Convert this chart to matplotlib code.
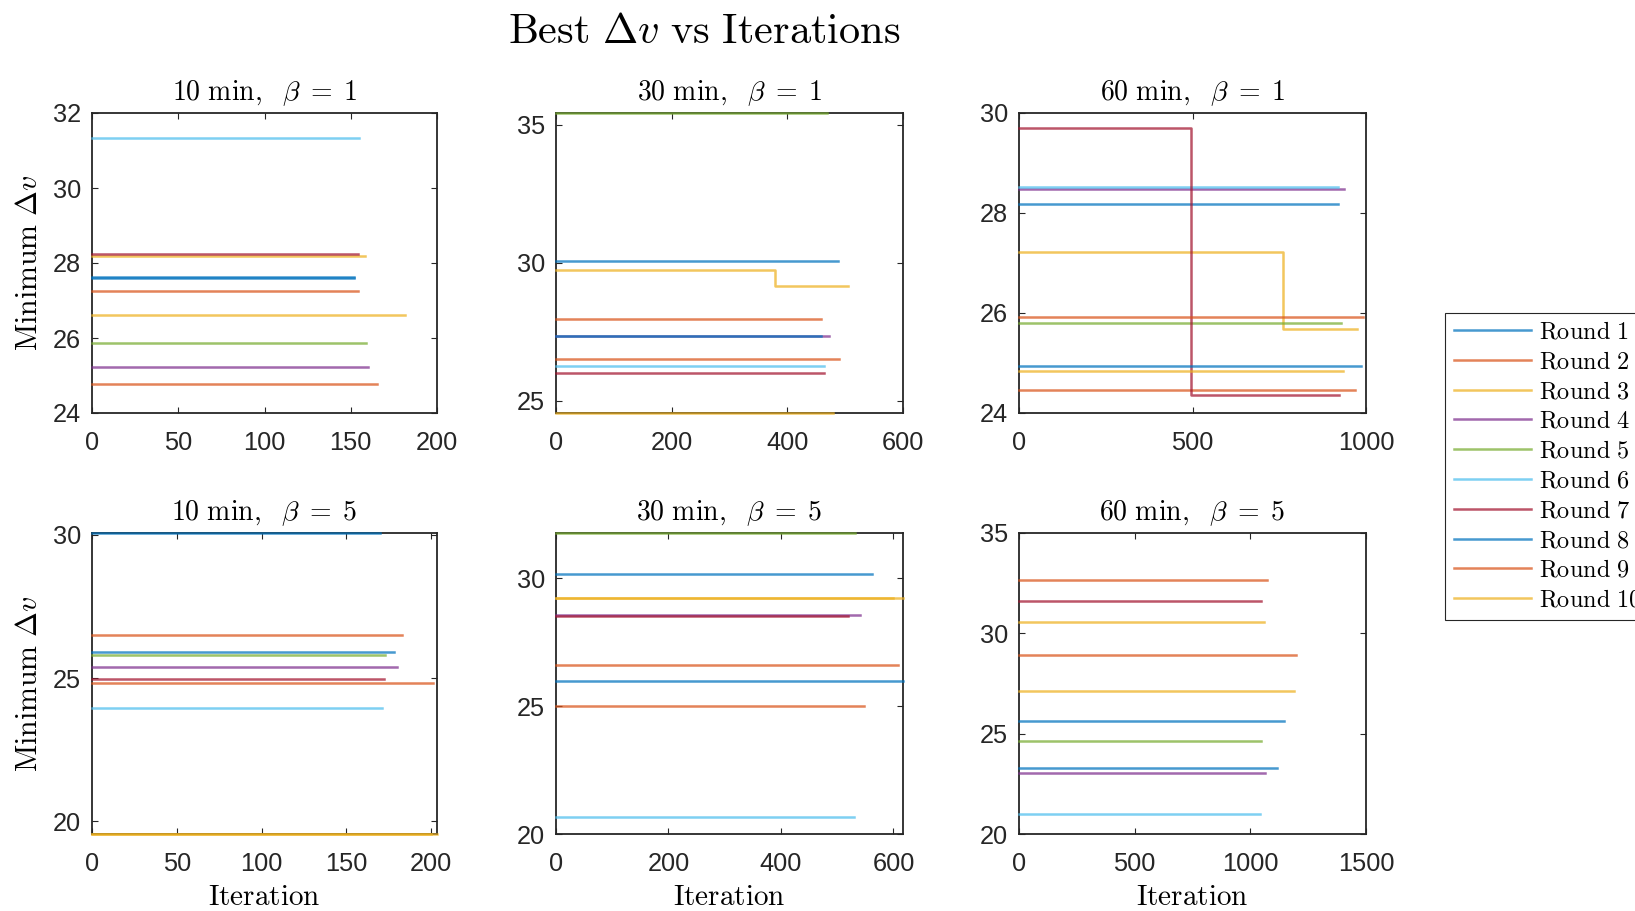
import numpy as np
import matplotlib
matplotlib.use("Agg")
import matplotlib.pyplot as plt

plt.rcParams['mathtext.fontset'] = 'cm'
plt.rcParams['font.family'] = ['Liberation Sans', 'DejaVu Sans']

# MATLAB default line colours, cycled for the 10 rounds
colors = ['#0072BD', '#D95319', '#EDB120', '#7E2F8E', '#77AC30',
          '#4DBEEE', '#A2142F', '#0072BD', '#D95319', '#EDB120']
rounds = ['Round %d' % (i + 1) for i in range(10)]

titles = [r'$\mathrm{10\ min},\ \ \beta\;=\;1$', r'$\mathrm{30\ min},\ \ \beta\;=\;1$',
          r'$\mathrm{60\ min},\ \ \beta\;=\;1$', r'$\mathrm{10\ min},\ \ \beta\;=\;5$',
          r'$\mathrm{30\ min},\ \ \beta\;=\;5$', r'$\mathrm{60\ min},\ \ \beta\;=\;5$']

# best delta-v per round (start value) and last iteration of each round
dv_10_b1 = [27.61, 27.25, 28.19, 25.23, 25.87, 31.33, 28.23, 27.62, 24.77, 26.61]
it_10_b1 = [152, 154, 158.5, 160, 159, 155, 154, 152, 165, 181.7]
dv_30_b1 = [30.07, 27.97, 29.75, 27.33, 35.42, 26.27, 26.02, 27.33, 26.50, 24.56]
it_30_b1 = [488, 459, 505, 472, 469, 463, 463, 459, 490, 479]
dv_60_b1 = [28.19, 24.46, 27.23, 28.48, 25.81, 28.53, 29.70, 24.94, 25.92, 24.84]
it_60_b1 = [920, 968, 973, 936, 927, 920, 922, 986, 992, 935]
dv_10_b5 = [30.06, 24.83, 19.56, 25.40, 25.80, 23.95, 24.98, 25.91, 26.51, 19.56]
it_10_b5 = [170, 201, 203.5, 180, 172.7, 171, 172, 178, 183, 200]
dv_30_b5 = [30.17, 25.00, 29.23, 28.56, 31.76, 20.65, 28.52, 25.96, 26.60, 29.23]
it_30_b5 = [562, 548, 617, 540, 531, 529, 519, 617, 608, 600]
dv_60_b5 = [25.62, 28.92, 27.14, 23.03, 24.63, 20.98, 31.60, 23.28, 32.66, 30.57]
it_60_b5 = [1147, 1197, 1190, 1064, 1045, 1040, 1045, 1117, 1071, 1061]

# improvements: panel -> {round index: (iteration, new best)}
steps = {1: {2: (379, 29.14)},
         2: {2: (760, 25.69), 6: (497, 24.36)}}

all_dv = [dv_10_b1, dv_30_b1, dv_60_b1, dv_10_b5, dv_30_b5, dv_60_b5]
all_it = [it_10_b1, it_30_b1, it_60_b1, it_10_b5, it_30_b5, it_60_b5]

xlims = [(0, 200), (0, 600), (0, 1000), (0, 203.5), (0, 617), (0, 1500)]
ylims = [(24, 32), (24.56, 35.42), (24, 30), (19.56, 30.06), (20, 31.76), (20, 35)]
xticks = [[0, 50, 100, 150, 200], [0, 200, 400, 600], [0, 500, 1000],
          [0, 50, 100, 150, 200], [0, 200, 400, 600], [0, 500, 1000, 1500]]
yticks = [[24, 26, 28, 30, 32], [25, 30, 35], [24, 26, 28, 30],
          [20, 25, 30], [20, 25, 30], [20, 25, 30, 35]]

fig = plt.figure(figsize=(16.35, 9.11), dpi=100)
W, H = 1635, 911
lefts = [92, 556, 1019]
widths = [345, 347, 347]
tops = [113, 533]
heights = [300, 301]

handles = []
for p in range(6):
    r, c = divmod(p, 3)
    ax = fig.add_axes([lefts[c] / W, 1 - (tops[r] + heights[r]) / H,
                       widths[c] / W, heights[r] / H])
    for k in range(10):
        v0 = all_dv[p][k]
        end = all_it[p][k]
        st = steps.get(p, {}).get(k)
        if st:
            x = [0, st[0], end]
            y = [v0, st[1], st[1]]
        else:
            x = [0, end]
            y = [v0, v0]
        ln, = ax.step(x, y, where='post', color=colors[k], lw=1.8, alpha=0.72,
                      clip_on=False, zorder=3, label=rounds[k])
        if p == 0:
            handles.append(ln)
    ax.set_xlim(*xlims[p])
    ax.set_ylim(*ylims[p])
    ax.set_xticks(xticks[p])
    ax.set_yticks(yticks[p])
    ax.tick_params(direction='in', top=True, right=True, length=4, width=0.8,
                   labelsize=18.3, colors='#262626', pad=8)
    ax.tick_params(axis='x', pad=13)
    for s in ax.spines.values():
        s.set_color('#262626')
        s.set_linewidth(1.3)
    ax.set_title(titles[p], fontsize=20, pad=9)
    if c == 0:
        ax.set_ylabel(r'$\mathrm{Minimum}\ \Delta v$', fontsize=21.5, labelpad=7)
    if r == 1:
        ax.set_xlabel(r'$\mathrm{Iteration}$', fontsize=21, labelpad=5)

fig.text(704 / W, 1 - 32 / H, r'$\mathrm{Best}\ \Delta v\ \mathrm{vs\ Iterations}$',
         fontsize=30.5, ha='center', va='center')

# legend sits at the right edge; the last label runs off the figure as in the original
leg = fig.legend(handles, [r'$\mathrm{%s}$' % t.replace(' ', r'\ ') for t in rounds],
                 loc='upper left', bbox_to_anchor=(1445 / W, 1 - 313 / H),
                 borderaxespad=0, fontsize=17.5, handlelength=3.2,
                 handletextpad=0.33, labelspacing=0.32, borderpad=0.35,
                 fancybox=False, framealpha=1, edgecolor='#262626')
leg.get_frame().set_linewidth(0.8)

fig.savefig('out.png', dpi=100)
